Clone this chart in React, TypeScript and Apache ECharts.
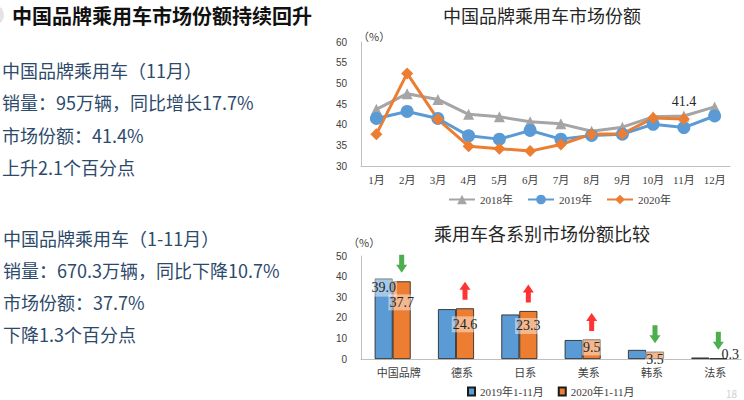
import React, { useEffect, useRef } from "react";
import * as echarts from "echarts";

const months = ["1月", "2月", "3月", "4月", "5月", "6月", "7月", "8月", "9月", "10月", "11月", "12月"];
const share2018 = [43.7, 47.5, 46.1, 42.5, 41.9, 40.7, 40.2, 38.4, 39.4, 41.9, 42.1, 44.3];
const share2019 = [41.5, 43.2, 41.5, 37.3, 36.5, 38.6, 36.5, 37.4, 37.7, 40.1, 39.3, 42.1];
const share2020 = [37.7, 52.4, 41.3, 34.8, 34.2, 33.6, 35.2, 37.7, 37.8, 41.6, 41.4, null];
const lineSeriesNames = ["2018年", "2019年", "2020年"];

const groups = ["中国品牌", "德系", "日系", "美系", "韩系", "法系"];
const ytd2019 = [39.0, 24.2, 21.6, 9.2, 4.4, 0.7];
const ytd2020 = [37.7, 24.6, 23.3, 9.5, 3.5, 0.3];
const barSeriesNames = ["2019年1-11月", "2020年1-11月"];

const pageTitle = "中国品牌乘用车市场份额持续回升";
const block1 = ["中国品牌乘用车（11月）", "销量：95万辆，同比增长17.7%", "市场份额：41.4%", "上升2.1个百分点"];
const block2 = ["中国品牌乘用车（1-11月）", "销量：670.3万辆，同比下降10.7%", "市场份额：37.7%", "下降1.3个百分点"];
const chartTitle1 = "中国品牌乘用车市场份额";
const chartTitle2 = "乘用车各系别市场份额比较";
const pageNumber = "18";

// style-only helpers
const block1Y = [70, 102, 135, 167];
const block2Y = [238, 270, 302, 334];
const label2020Offsets = [13, 8, 7, 0, 0, 0];

const SERIF = '"Liberation Serif", "DejaVu Serif", "Noto Sans CJK SC", serif';
const SANS_CJK = '"Noto Sans CJK SC", "Noto Sans", sans-serif';
const TEXT_BLUE = "#2d4a6b";

const DOWN = "path://M3,0 L8,0 L8,10 L11,10 L5.5,18 L0,10 L3,10 Z";
const UP = "path://M5.5,0 L11,8 L8,8 L8,18 L3,18 L3,8 L0,8 Z";

export default function App() {
  const ref = useRef<HTMLDivElement>(null);

  useEffect(() => {
    document.body.style.margin = "0";
    if (!ref.current) return;
    const chart = echarts.init(ref.current, undefined, { renderer: "svg" });

    const textEls: any[] = [];
    textEls.push({
      type: "circle",
      shape: { cx: -6, cy: 15, r: 10 },
      style: { fill: "#e3e3e3" },
    });
    textEls.push({
      type: "text",
      x: 12,
      y: 15,
      style: {
        text: pageTitle,
        fontSize: 20,
        fontWeight: "bold",
        fontFamily: SANS_CJK,
        fill: "#111",
        verticalAlign: "middle",
      },
    });
    block1.forEach((t, i) =>
      textEls.push({
        type: "text",
        x: 2,
        y: block1Y[i],
        style: { text: t, fontSize: 18, fontFamily: SANS_CJK, fill: TEXT_BLUE, verticalAlign: "middle" },
      })
    );
    block2.forEach((t, i) =>
      textEls.push({
        type: "text",
        x: 3,
        y: block2Y[i],
        style: { text: t, fontSize: 18, fontFamily: SANS_CJK, fill: TEXT_BLUE, verticalAlign: "middle" },
      })
    );
    textEls.push({
      type: "text",
      x: 542,
      y: 15,
      style: { text: chartTitle1, fontSize: 18, fontFamily: SANS_CJK, fill: "#262626", align: "center", verticalAlign: "middle" },
    });
    textEls.push({
      type: "text",
      x: 542,
      y: 233,
      style: { text: chartTitle2, fontSize: 18, fontFamily: SANS_CJK, fill: "#262626", align: "center", verticalAlign: "middle" },
    });
    textEls.push({
      type: "text",
      x: 358,
      y: 36,
      style: { text: "（%）", fontSize: 11, fontFamily: SANS_CJK, fill: "#404040", verticalAlign: "middle" },
    });
    textEls.push({
      type: "text",
      x: 348,
      y: 242,
      style: { text: "（%）", fontSize: 11, fontFamily: SANS_CJK, fill: "#404040", verticalAlign: "middle" },
    });
    textEls.push({
      type: "text",
      x: 726,
      y: 393,
      style: { text: pageNumber, fontSize: 10, fontFamily: SANS_CJK, fill: "#cfcfcf", verticalAlign: "middle" },
    });

    const axisLineStyle = { lineStyle: { color: "#bfbfbf", width: 1 } };
    const yLabel = { fontSize: 10, fontFamily: '"Liberation Sans", Arial, sans-serif', color: "#404040", margin: 14 };

    chart.setOption({
      animation: false,
      graphic: textEls,
      grid: [
        { left: 361, right: 14, top: 42, height: 124 },
        { left: 361, right: 3, top: 256, bottom: 41 },
      ],
      legend: [
        {
          data: lineSeriesNames,
          left: 443,
          top: 189,
          itemWidth: 26,
          itemHeight: 12,
          itemGap: 14,
          textStyle: { fontSize: 11, fontFamily: SERIF, color: "#404040" },
        },
        {
          data: barSeriesNames,
          left: 462,
          top: 384,
          icon: "rect",
          itemWidth: 7,
          itemHeight: 8,
          itemGap: 14,
          padding: [2, 5],
          textStyle: { fontSize: 11, fontFamily: SERIF, color: "#404040" },
        },
      ],
      xAxis: [
        {
          type: "category",
          gridIndex: 0,
          data: months,
          axisLine: axisLineStyle,
          axisTick: { show: false },
          axisLabel: { interval: 0, fontSize: 11, fontFamily: SERIF, color: "#404040", margin: 8 },
        },
        {
          type: "category",
          gridIndex: 1,
          data: groups,
          axisLine: axisLineStyle,
          axisTick: { show: false },
          axisLabel: { interval: 0, fontSize: 11, fontFamily: SERIF, color: "#404040", margin: 8, padding: [0, 0, 0, 12] },
        },
      ],
      yAxis: [
        {
          type: "value",
          gridIndex: 0,
          min: 30,
          max: 60,
          interval: 5,
          axisLine: { show: true, ...axisLineStyle },
          axisTick: { show: false },
          splitLine: { show: false },
          axisLabel: yLabel,
        },
        {
          type: "value",
          gridIndex: 1,
          min: 0,
          max: 50,
          interval: 10,
          axisLine: { show: true, ...axisLineStyle },
          axisTick: { show: false },
          splitLine: { show: false },
          axisLabel: yLabel,
        },
      ],
      series: [
        {
          name: lineSeriesNames[0],
          type: "line",
          xAxisIndex: 0,
          yAxisIndex: 0,
          data: share2018,
          symbol: "triangle",
          symbolSize: 11,
          color: "#a5a5a5",
          lineStyle: { width: 3, color: "#a5a5a5" },
        },
        {
          name: lineSeriesNames[1],
          type: "line",
          xAxisIndex: 0,
          yAxisIndex: 0,
          data: share2019,
          symbol: "circle",
          symbolSize: 13,
          color: "#5b9bd5",
          lineStyle: { width: 3, color: "#5b9bd5" },
        },
        {
          name: lineSeriesNames[2],
          type: "line",
          xAxisIndex: 0,
          yAxisIndex: 0,
          data: share2020.map((v, i) =>
            i === 10
              ? {
                  value: v,
                  label: {
                    show: true,
                    position: "top",
                    distance: 4,
                    fontSize: 14,
                    fontFamily: SERIF,
                    color: "#262626",
                  },
                }
              : v
          ),
          symbol: "diamond",
          symbolSize: 12,
          color: "#ed7d31",
          lineStyle: { width: 3, color: "#ed7d31" },
        },
        {
          name: barSeriesNames[0],
          type: "bar",
          xAxisIndex: 1,
          yAxisIndex: 1,
          barWidth: 18,
          barGap: "0%",
          color: "#5b9bd5",
          itemStyle: { color: "#5b9bd5", borderColor: "#1a1a1a", borderWidth: 0.8 },
          data: ytd2019.map((v, i) =>
            i === 0
              ? {
                  value: v,
                  label: {
                    show: true,
                    position: "insideTop",
                    distance: 0,
                    formatter: (p: any) => Number(p.value).toFixed(1),
                    fontSize: 14,
                    fontFamily: SERIF,
                    color: "#262626",
                    backgroundColor: "rgba(255,255,255,0.45)",
                    padding: [2, 1],
                  },
                }
              : v
          ),
        },
        {
          name: barSeriesNames[1],
          type: "bar",
          xAxisIndex: 1,
          yAxisIndex: 1,
          barWidth: 18,
          barGap: "0%",
          color: "#ed7d31",
          itemStyle: { color: "#ed7d31", borderColor: "#1a1a1a", borderWidth: 0.8 },
          data: ytd2020.map((v, i) => ({
            value: v,
            label:
              i === groups.length - 1
                ? {
                    show: true,
                    position: "right",
                    distance: -6,
                    offset: [0, -4],
                    fontSize: 14,
                    fontFamily: SERIF,
                    color: "#262626",
                  }
                : {
                    show: true,
                    position: "insideTop",
                    distance: 0,
                    offset: [0, label2020Offsets[i]],
                    fontSize: 14,
                    fontFamily: SERIF,
                    color: "#262626",
                    backgroundColor: "rgba(255,255,255,0.45)",
                    padding: [1, 1],
                  },
          })),
        },
        {
          type: "scatter",
          xAxisIndex: 1,
          yAxisIndex: 1,
          symbolSize: [11, 18],
          symbolOffset: [9, 0],
          silent: true,
          data: ytd2020.map((v, i) => {
            const up = v > ytd2019[i];
            return {
              value: [i, v + 8.5],
              symbol: up ? UP : DOWN,
              itemStyle: { color: up ? "#ff0000" : "#1f9a1f" },
            };
          }),
        },
      ],
    });

    return () => chart.dispose();
  }, []);

  return <div ref={ref} style={{ width: 744, height: 400 }} />;
}
